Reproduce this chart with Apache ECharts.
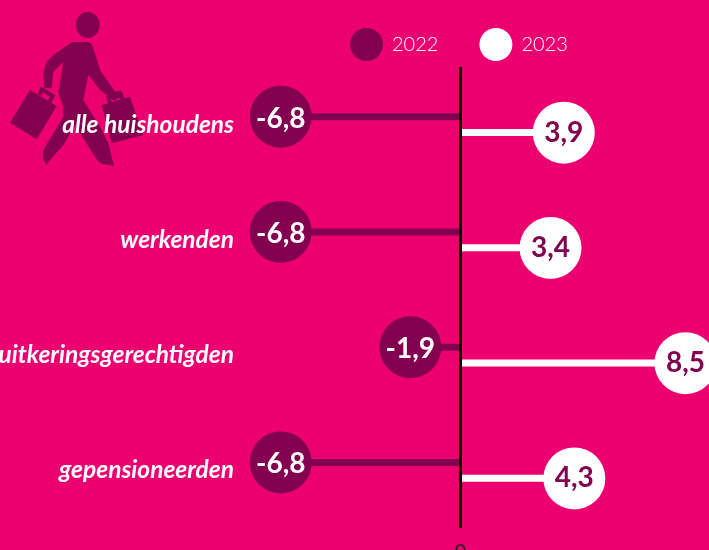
<!DOCTYPE html>
<html><head><meta charset="utf-8">
<style>html,body{margin:0;padding:0;background:#EC0070;overflow:hidden}#c{width:709px;height:550px}</style>
<script src="https://cdn.jsdelivr.net/npm/echarts@6/dist/echarts.min.js"></script>
</head><body><div id="c"></div>
<script>
const categories = ['alle huishoudens','werkenden','uitkeringsgerechtigden','gepensioneerden'];
const values2022 = [-6.8,-6.8,-1.9,-6.8];
const values2023 = [3.9,3.4,8.5,4.3];
const seriesNames = ['2022','2023'];
const PINK='#EC0070', PURPLE='#82004F', WHITE='#FFFFFF';
const fmt = v => String(v).replace('.',',');
const chart = echarts.init(document.getElementById('c'),null,{renderer:'canvas'});
function lollipop(name,vals,color,txt,off,labelOff){
  return [{
    name,type:'bar',data:vals,barWidth:7,barGap:'128%',itemStyle:{color},silent:true,z:2,
    animation:false
  },{
    name,type:'scatter',data:vals.map((v,i)=>[v,i]),symbol:'circle',symbolSize:62,symbolOffset:[0,off],
    itemStyle:{color,opacity:1},z:4,animation:false,
    label:{show:true,position:'inside',offset:[0,labelOff],formatter:p=>fmt(p.value[0]),color:txt,
      fontFamily:'Lato',fontWeight:700,fontSize:28}
  }];
}
const iconPoly = (pts)=>({type:'polygon',scaleX:1/3,scaleY:1/3,shape:{points:pts},style:{fill:PURPLE}});
const iconLine = (pts)=>({type:'polyline',scaleX:1/3,scaleY:1/3,shape:{points:pts},style:{fill:'none',stroke:PURPLE,lineWidth:12}});
chart.setOption({
  backgroundColor:PINK,animation:false,
  grid:{left:249,width:449.65,top:67,height:461,containLabel:false,outerBoundsMode:'none'},
  legend:{data:seriesNames,left:345,top:23,itemWidth:33,itemHeight:33,itemGap:41,icon:'circle',
    textStyle:{color:WHITE,fontFamily:'Lato',fontWeight:300,fontSize:20,padding:[0,0,0,4]},selectedMode:false},
  xAxis:{type:'value',min:-8,max:9,interval:1,axisLine:{show:false},axisTick:{show:false},splitLine:{show:false},
    axisLabel:{margin:14,color:'#222',fontFamily:'Lato',fontSize:20,formatter:v=>v===0?'0':''}},
  yAxis:{type:'category',data:categories,inverse:true,axisLine:{show:false},axisTick:{show:false},
    axisLabel:{margin:15,color:WHITE,fontFamily:'Lato',fontStyle:'italic',fontWeight:700,fontSize:24.5}},
  series:[
    ...lollipop(seriesNames[0],values2022,PURPLE,WHITE,-8,2),
    ...lollipop(seriesNames[1],values2023,WHITE,PURPLE,8,0),
    {type:'line',data:[],z:3,markLine:{silent:true,symbol:'none',animation:false,label:{show:false},
      lineStyle:{color:'#000',width:3,type:'solid'},data:[{xAxis:0}]}}
  ],
  graphic:[{
    type:'group',left:0,top:0,z:1,silent:true,bounding:'raw',children:[
      {type:'ellipse',shape:{cx:87.7,cy:25,rx:12,ry:13},style:{fill:PURPLE}},
      iconPoly([[215,127],[262,125],[275,132],[285,160],[300,210],[345,275],[362,272],[368,288],[342,302],[300,270],[265,225],[250,300],[300,380],[325,430],[342,497],[310,493],[295,485],[285,470],[225,375],[190,435],[150,480],[140,495],[128,475],[130,450],[190,350],[190,320],[175,280],[190,185],[160,215],[155,265],[132,265],[130,215],[140,185],[160,165]]),
      iconPoly([[90,270],[170,318],[110,418],[30,368]]),
      iconPoly([[305,315],[390,290],[430,405],[335,430]]),
      iconLine([[118,285],[125,268],[158,288],[148,305]]),
      iconLine([[330,310],[325,292],[362,282],[368,300]])
    ]
  }]
});
</script></body></html>
